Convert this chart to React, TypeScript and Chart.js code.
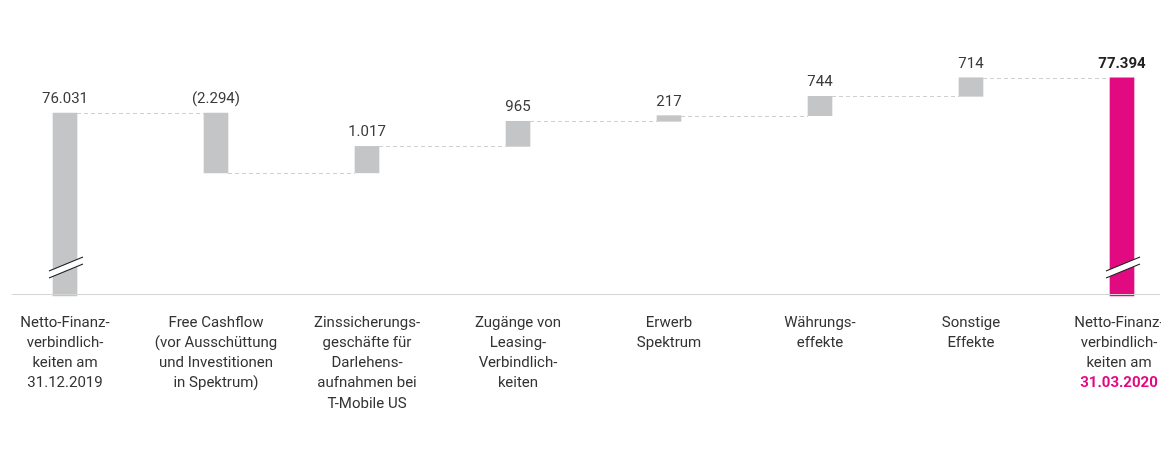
import React, { useEffect, useRef } from "react";
import { Chart, registerables } from "chart.js";

Chart.register(...registerables);

const categories: string[][] = [
  ["Netto-Finanz-", "verbindlich-", "keiten am", "31.12.2019"],
  ["Free Cashflow", "(vor Ausschüttung", "und Investitionen", "in Spektrum)"],
  ["Zinssicherungs-", "geschäfte für", "Darlehens-", "aufnahmen bei", "T-Mobile US"],
  ["Zugänge von", "Leasing-", "Verbindlich-", "keiten"],
  ["Erwerb", "Spektrum"],
  ["Währungs-", "effekte"],
  ["Sonstige", "Effekte"],
  ["Netto-Finanz-", "verbindlich-", "keiten am", "31.03.2020"],
];

const startValue = 76031;
const deltas = [-2294, 1017, 965, 217, 744, 714];
const endValue = 77394;
const valueLabels = ["76.031", "(2.294)", "1.017", "965", "217", "744", "714", "77.394"];

const axisBase = 69000;
const axisTop = 78500;

const GREY = "#c4c5c7";
const MAGENTA = "#e20a80";

function buildBars(): [number, number][] {
  const bars: [number, number][] = [[axisBase, startValue]];
  let cur = startValue;
  for (const d of deltas) {
    const next = cur + d;
    bars.push([cur, next]);
    cur = next;
  }
  bars.push([axisBase, endValue]);
  return bars;
}

function buildLevels(): number[] {
  const levels: number[] = [startValue];
  let cur = startValue;
  for (const d of deltas) {
    cur += d;
    levels.push(cur);
  }
  return levels;
}

const FONT = "Roboto, 'Noto Sans', sans-serif";

const waterfallPlugin = {
  id: "waterfallDecor",
  afterDatasetsDraw(chart: any) {
    const ctx = chart.ctx as CanvasRenderingContext2D;
    const meta = chart.getDatasetMeta(0);
    const y = chart.scales.y;
    const els = meta.data;
    const levels = buildLevels();
    const bars = buildBars();

    ctx.save();
    // connectors
    ctx.strokeStyle = "#cfcfcf";
    ctx.lineWidth = 1;
    ctx.setLineDash([4, 3]);
    for (let i = 0; i < els.length - 1; i++) {
      const a = els[i];
      const b = els[i + 1];
      const py = Math.round(y.getPixelForValue(levels[i])) + 0.5;
      ctx.beginPath();
      ctx.moveTo(a.x + a.width / 2, py);
      ctx.lineTo(b.x - b.width / 2, py);
      ctx.stroke();
    }
    ctx.setLineDash([]);

    // axis line
    const axisY = chart.chartArea.bottom - 1.5;
    ctx.strokeStyle = "#d4d4d4";
    ctx.lineWidth = 1;
    ctx.beginPath();
    ctx.moveTo(4, axisY);
    ctx.lineTo(1152, axisY);
    ctx.stroke();

    // break marks on first and last bars
    for (const idx of [0, els.length - 1]) {
      const cx = els[idx].x;
      const y0 = 263;
      const x1 = cx - 16;
      const x2 = cx + 18;
      const dy = 14;
      const gap = 7;
      ctx.fillStyle = "#ffffff";
      ctx.beginPath();
      ctx.moveTo(x1, y0);
      ctx.lineTo(x2, y0 - dy);
      ctx.lineTo(x2, y0 - dy + gap);
      ctx.lineTo(x1, y0 + gap);
      ctx.closePath();
      ctx.fill();
      ctx.strokeStyle = "#222222";
      ctx.lineWidth = 1.2;
      ctx.beginPath();
      ctx.moveTo(x1, y0);
      ctx.lineTo(x2, y0 - dy);
      ctx.moveTo(x1, y0 + gap);
      ctx.lineTo(x2, y0 - dy + gap);
      ctx.stroke();
    }

    // value labels
    ctx.textAlign = "center";
    ctx.textBaseline = "alphabetic";
    for (let i = 0; i < els.length; i++) {
      const top = y.getPixelForValue(Math.max(bars[i][0], bars[i][1]));
      const last = i === els.length - 1;
      ctx.font = `${last ? "bold " : ""}15px ${FONT}`;
      ctx.fillStyle = last ? "#222222" : "#3a3a3a";
      ctx.fillText(valueLabels[i], els[i].x, top - 10);
    }

    // category labels
    ctx.textBaseline = "middle";
    for (let i = 0; i < els.length; i++) {
      const lines = categories[i];
      const lastCat = i === els.length - 1;
      const cx = lastCat ? els[i].x - 3 : els[i].x;
      for (let j = 0; j < lines.length; j++) {
        const lastDate = lastCat && j === lines.length - 1;
        ctx.font = `${lastDate ? "bold " : ""}15px ${FONT}`;
        ctx.fillStyle = lastDate ? MAGENTA : "#333333";
        ctx.fillText(lines[j], cx, 315 + j * 20.2);
      }
    }
    ctx.restore();
  },
};

export default function App() {
  const ref = useRef<HTMLCanvasElement | null>(null);
  useEffect(() => {
    if (!ref.current) return;
    const bars = buildBars();
    const chart = new Chart(ref.current, {
      type: "bar",
      data: {
        labels: categories.map((c) => c.join(" ")),
        datasets: [
          {
            data: bars as any,
            backgroundColor: bars.map((_, i) => (i === bars.length - 1 ? MAGENTA : GREY)),
            borderWidth: 0,
            barThickness: 24,
            clip: false as any,
          },
        ],
      },
      options: {
        animation: false,
        responsive: true,
        maintainAspectRatio: false,
        layout: { padding: { left: 57, right: 47, top: 41, bottom: 145 } },
        plugins: { legend: { display: false }, tooltip: { enabled: false } },
        scales: {
          x: { display: false, offset: false, grid: { display: false } },
          y: { display: false, min: axisBase, max: axisTop, grid: { display: false } },
        },
      },
      plugins: [waterfallPlugin],
    });
    return () => chart.destroy();
  }, []);
  return (
    <div style={{ position: "relative", width: "1161px", height: "433px" }}>
      <canvas ref={ref} />
    </div>
  );
}
